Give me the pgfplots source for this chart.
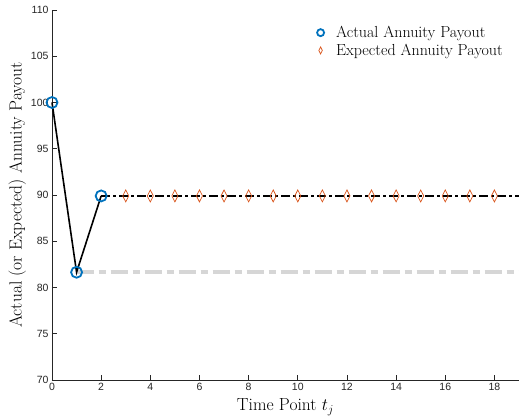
\documentclass[border=0pt]{standalone}
\usepackage{pgfplots}
\pgfplotsset{compat=1.18}
\usepackage{fontspec}
\newfontfamily\helv{Liberation Sans}
\usetikzlibrary{calc}
\definecolor{mblue}{rgb}{0,0.447,0.741}
\definecolor{morange}{rgb}{0.85,0.325,0.098}
\definecolor{tickgray}{rgb}{0.15,0.15,0.15}
\begin{document}
\begin{tikzpicture}
\begin{axis}[
  name=ax,
  scale only axis,
  width=467pt, height=370pt,
  xmin=0, xmax=19, ymin=70, ymax=110,
  axis lines*=left,
  axis line style={line width=0.6pt, tickgray},
  xtick={0,2,...,18},
  ytick={70,75,...,110},
  tick align=inside,
  major tick length=5pt,
  tick style={tickgray, line width=0.6pt},
  ticklabel style={font=\helv\fontsize{10.5}{12}\selectfont, text=tickgray},
  /pgf/number format/assume math mode=true,
  xlabel={Time Point $t_j$},
  ylabel={Actual (or Expected) Annuity Payout},
  label style={font=\fontsize{17.5}{20}\selectfont},
  xlabel style={yshift=-1pt},
  ylabel style={yshift=-2pt},
  legend style={draw=none, fill=none, at={(0.97,0.962)}, anchor=north east, font=\fontsize{16}{18}\selectfont, row sep=1pt, inner sep=0pt,
    /tikz/every odd column/.append style={column sep=10pt}},
  legend cell align=left,
  legend image post style={mark size=3.5pt},
  clip=false,
]
\addplot[color={rgb,1:red,0.84;green,0.84;blue,0.84}, line width=4.5pt, dash pattern=on 17pt off 5pt on 7pt off 5pt, forget plot] coordinates {(1,81.65) (19,81.65)};
\addplot[black, line width=1.6pt, dash pattern=on 9pt off 3pt on 3pt off 3pt, forget plot] coordinates {(2,89.9) (19,89.9)};
\addplot[black, line width=1.6pt, forget plot] coordinates {(0,100) (1,81.65) (2,89.9)};
\addplot[only marks, mark=o, mark size=5.5pt, mark options={mblue, line width=1.8pt}] coordinates {(0,100) (1,81.65) (2,89.9)};
\addlegendentry{Actual Annuity Payout}
\addplot[only marks, mark=diamond, mark size=6pt, mark options={morange, line width=0.7pt, fill=white, xscale=0.67}] coordinates {
(3,89.9) (4,89.9) (5,89.9) (6,89.9) (7,89.9) (8,89.9) (9,89.9) (10,89.9) (11,89.9) (12,89.9) (13,89.9) (14,89.9) (15,89.9) (16,89.9) (17,89.9) (18,89.9)};
\addlegendentry{Expected Annuity Payout}
\end{axis}
\pgfresetboundingbox
\path[use as bounding box] ($(ax.south west)+(-52pt,-40pt)$) rectangle ($(ax.north east)+(0pt,10pt)$);
\end{tikzpicture}
\end{document}
